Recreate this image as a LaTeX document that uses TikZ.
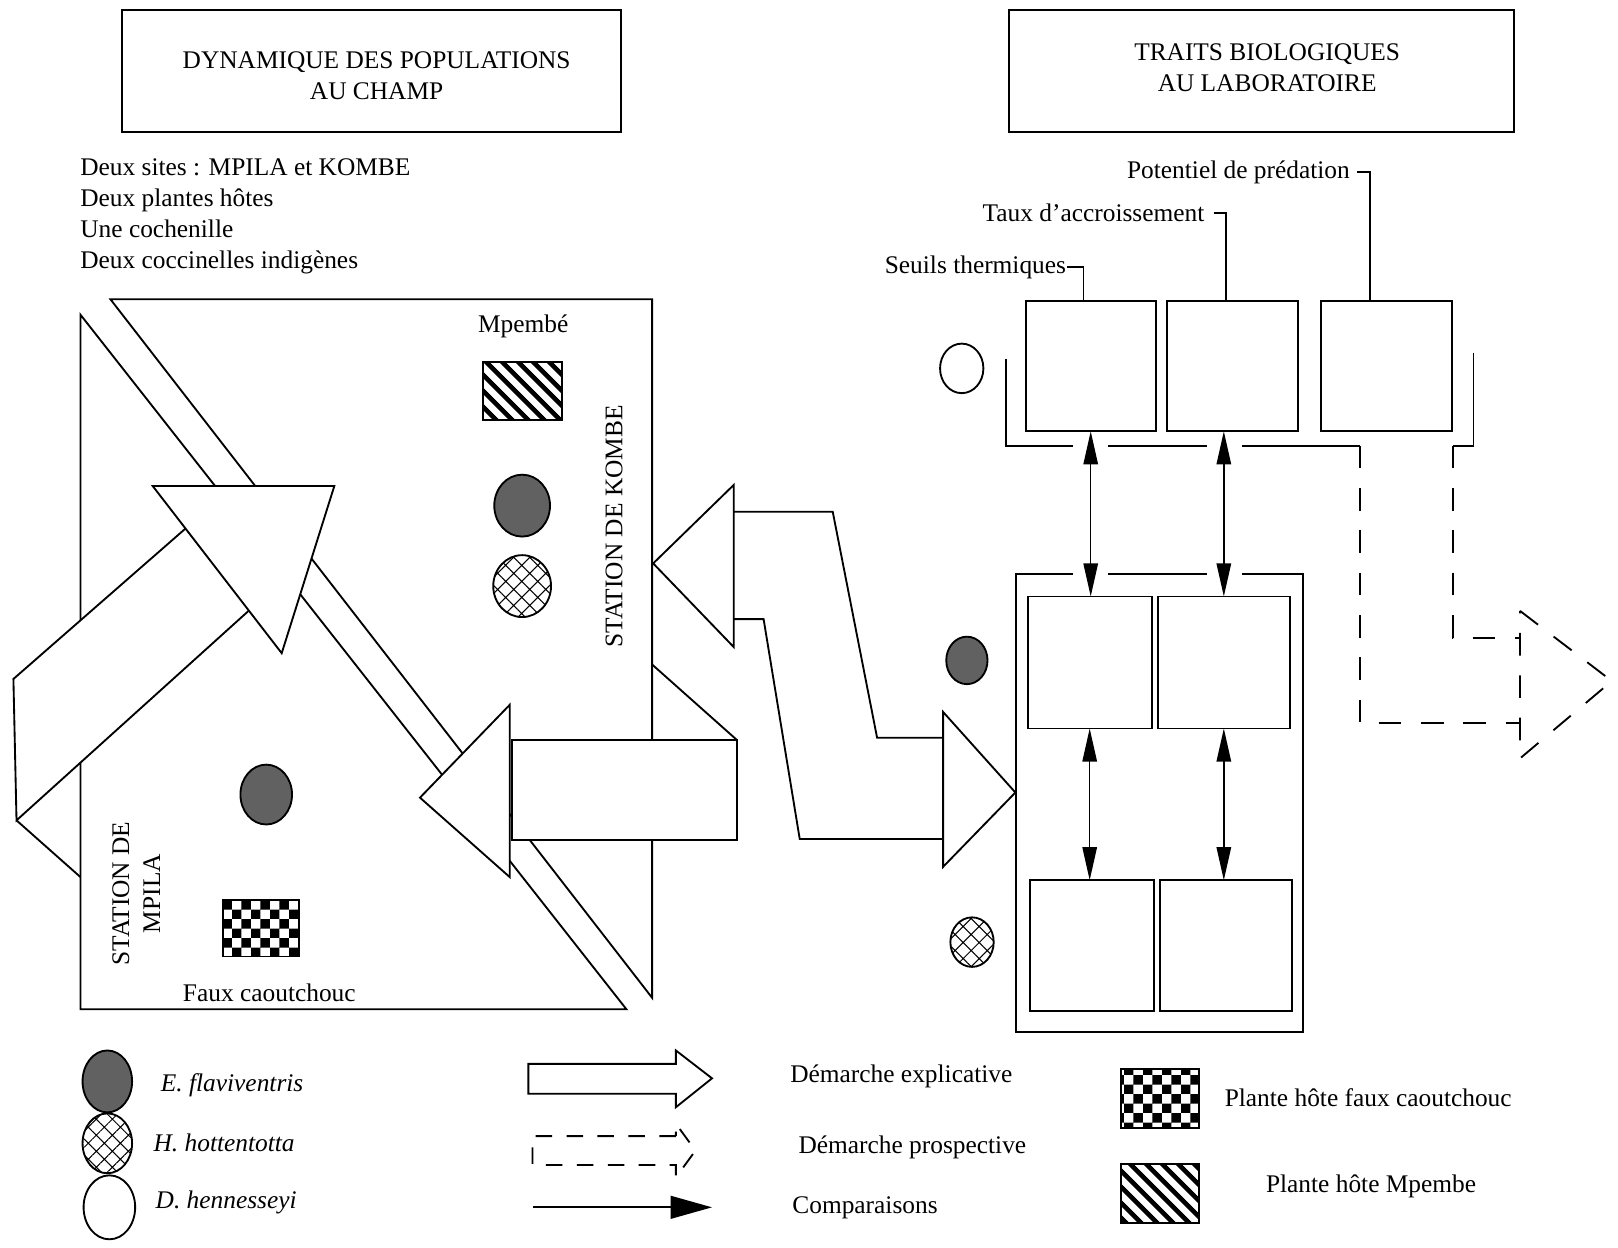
\documentclass[tikz,border=0pt]{standalone}
\usepackage{fontspec}
\setmainfont{Liberation Serif}
\usetikzlibrary{arrows.meta,shapes.geometric,patterns,patterns.meta}
\pgfdeclarepatternformonly{damier}{\pgfpointorigin}{\pgfpoint{9.4pt}{9.4pt}}{\pgfpoint{9.4pt}{9.4pt}}{%
\pgfpathrectangle{\pgfpointorigin}{\pgfpoint{4.7pt}{4.7pt}}%
\pgfpathrectangle{\pgfpoint{4.7pt}{4.7pt}}{\pgfpoint{4.7pt}{4.7pt}}%
\pgfusepath{fill}}
\begin{document}
\begin{tikzpicture}[x=.5pt,y=-.5pt,line width=.9pt,font=\fontsize{12.3}{15}\selectfont,
titre/.style={draw,minimum width=242pt,minimum height=59pt},
txt/.style={inner sep=0pt},
case/.style={draw,inner sep=0pt,outer sep=0pt},
efla/.style={ellipse,draw,fill=black!62,inner sep=0pt},
hhot/.style={ellipse,draw,pattern={Hatch[angle=45,distance=5.5pt,line width=.5pt]},inner sep=0pt},
dhen/.style={ellipse,draw,inner sep=0pt},
mpembe/.style={draw,pattern={Lines[angle=-45,distance=5.4pt,line width=2.4pt]},inner sep=0pt},
faux/.style={draw,pattern=damier,inner sep=0pt},
fleche/.style={draw,fill=white},
prosp/.style={dash pattern=on 11pt off 9.5pt},
cmp/.style={{Triangle[length=16pt,width=7pt]}-{Triangle[length=16pt,width=7pt]},line width=.7pt}]
\useasboundingbox (0,0) rectangle (1568,1209);
\node[titre] (champ) at (360,69){};
\node[align=center] (tchamp) at (365,73){DYNAMIQUE DES POPULATIONS\\AU CHAMP};
\node[titre,minimum width=244.5pt] (labo) at (1222.5,69){};
\node[align=center] (tlabo) at (1228,66){TRAITS BIOLOGIQUES\\AU LABORATOIRE};
\node[txt,anchor=base west] (l1) at (77,170){Deux sites : MPILA et KOMBE};
\node[txt,anchor=base west] (l2) at (77,200){Deux plantes hôtes};
\node[txt,anchor=base west] (l3) at (77,230){Une cochenille};
\node[txt,anchor=base west] (l4) at (77,260){Deux coccinelles indigènes};
\draw (107,290) -- (632,290) -- (632,967) -- cycle;
\draw (78,305) -- (78,978) -- (607,978) -- cycle;
\node[mpembe,minimum width=38.5pt,minimum height=28pt] (mp) at (506.5,379){};
\node[efla,minimum width=27pt,minimum height=30pt] (k1) at (506,490){};
\node[hhot,minimum width=28pt,minimum height=30pt] (k2) at (506,568){};
\node[efla,minimum width=25pt,minimum height=29pt] (m1) at (258,770){};
\node[faux,minimum width=37pt,minimum height=27.5pt] (fc) at (253,899.5){};
\node (tmp) at (507,316){Mpembé};
\node[rotate=90] (kombe) at (595,510){STATION DE KOMBE};
\node[rotate=90,align=center] (mpila) at (132,866){STATION DE\\MPILA};
\node (tfc) at (261,962){Faux caoutchouc};
\draw[fleche] (13,658) -- (180,512) -- (242,591) -- (16,795) -- cycle;
\draw[fleche] (148,471) -- (324,471) -- (273,633) -- cycle;
\draw (16,795) -- (78,850);
\draw[fleche] (496,717) rectangle (714,814);
\draw[fleche] (494,683) -- (494,850) -- (407,773) -- cycle;
\draw (632,644) -- (714,717);
\draw[fleche] (711,470) -- (711,627) -- (633,546) -- cycle;
\draw (711,496) -- (807,496) -- (850,715) -- (914,715);
\draw (711,600) -- (740,600) -- (775,813) -- (914,813);
\draw[fleche] (914,690) -- (914,840) -- (984,768) -- cycle;
\node[dhen,minimum width=21pt,minimum height=24pt] (d1) at (932,357){};
\node[efla,minimum width=20pt,minimum height=23pt] (e1) at (937,640){};
\node[hhot,minimum width=21pt,minimum height=24pt] (h1) at (942,913){};
\node[case,minimum width=63pt,minimum height=63pt] (ta) at (1057,355){};
\node[case,minimum width=63.5pt,minimum height=63pt] (tb) at (1194.5,355){};
\node[case,minimum width=63.5pt,minimum height=63pt] (tc) at (1343.5,355){};
\node[case,minimum width=60pt,minimum height=64pt] (ra) at (1056,642){};
\node[case,minimum width=64pt,minimum height=64pt] (rb) at (1186,642){};
\node[case,minimum width=60pt,minimum height=63.5pt] (sa) at (1058,916.5){};
\node[case,minimum width=64pt,minimum height=63.5pt] (sb) at (1188,916.5){};
\node[txt,anchor=base east] (pot) at (1309,173){Potentiel de prédation};
\node[txt,anchor=base east] (taux) at (1168,215){Taux d'accroissement};
\node[txt,anchor=base east] (seuil) at (1034,265){Seuils thermiques};
\draw ([xshift=3pt]pot.east) -| ([xshift=-7.75pt]tc.north);
\draw ([xshift=4pt]taux.east) -| ([xshift=-3.25pt]tb.north);
\draw (seuil.east) -| ([xshift=-3.5pt]ta.north);
\draw (975,348) -- (975,432) -- (1040,432);
\draw (1074,432) -- (1170,432);
\draw (1204,432) -- (1318,432);
\draw[prosp] (1318,432) -- (1318,701) -- (1473,701);
\draw (1428,342) -- (1428,432) -- (1408,432);
\draw[prosp] (1408,432) -- (1408,618) -- (1473,618);
\draw[prosp] (1473,592) -- (1562,660) -- (1473,735) -- cycle;
\draw (1040,556) -- (985,556) -- (985,1000) -- (1263,1000) -- (1263,556) -- (1204,556);
\draw (1074,556) -- (1170,556);
\draw[cmp] (ta.south) -- (ta.south |- ra.north);
\draw[cmp] (rb.north |- tb.south) -- (rb.north);
\draw[cmp] (ra.south) -- (ra.south |- sa.north);
\draw[cmp] (rb.south) -- (rb.south |- sb.north);
\node[efla,minimum width=24pt,minimum height=30pt] (le) at (104,1048){};
\node[hhot,minimum width=24pt,minimum height=29pt] (lh) at (104,1108){};
\node[dhen,minimum width=25pt,minimum height=31pt] (ld) at (106,1170){};
\node[txt,anchor=west] (tle) at (155,1052){\textit{E. flaviventris}};
\node[txt,anchor=west] (tlh) at (148,1108){\textit{H. hottentotta}};
\node[txt,anchor=west] (tld) at (150,1165){\textit{D. hennesseyi}};
\draw[fleche] (512,1031) -- (655,1031) -- (655,1018) -- (690,1045) -- (655,1073) -- (655,1060) -- (512,1060) -- cycle;
\draw[dash pattern=on 8pt off 7pt] (655,1101) -- (516,1101) -- (516,1129) -- (655,1129) -- (655,1141) -- (674,1115) -- (655,1089) -- cycle;
\draw[-{Triangle[length=20pt,width=11pt]}] (517,1170) -- (690,1170);
\node[txt,anchor=west] (tex) at (765,1043){Démarche explicative};
\node[txt,anchor=west] (tpr) at (773,1112){Démarche prospective};
\node[txt,anchor=west] (tco) at (767,1170){Comparaisons};
\node[faux,minimum width=38pt,minimum height=28.5pt] (lf) at (1124,1064.5){};
\node[mpembe,minimum width=38pt,minimum height=28.5pt] (lm) at (1124,1156.5){};
\node[txt,anchor=west] (tlf) at (1186,1064){Plante hôte faux caoutchouc};
\node[txt,anchor=west] (tlm) at (1226,1150){Plante hôte Mpembe};
\end{tikzpicture}
\end{document}
